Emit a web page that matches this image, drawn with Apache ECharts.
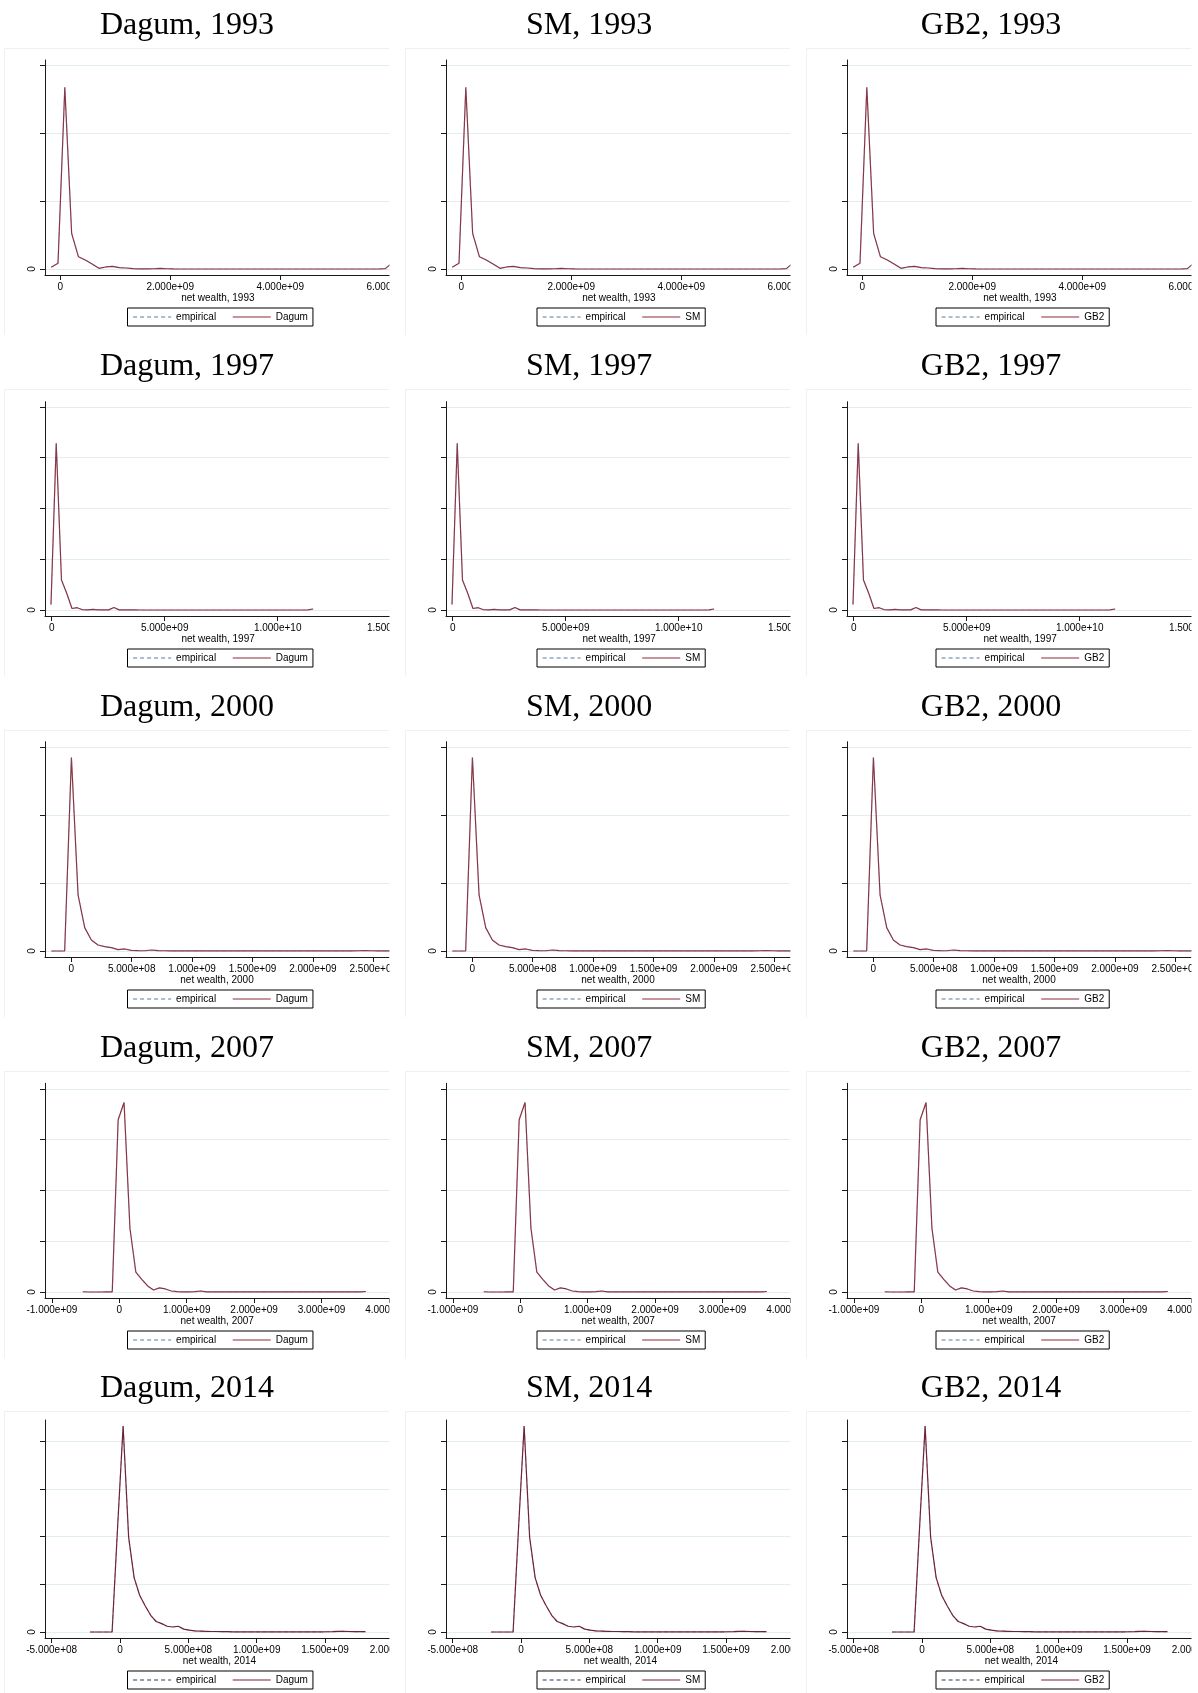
<!DOCTYPE html>
<html>
<head>
<meta charset="utf-8">
<title>Net wealth: empirical vs fitted densities</title>
<script src="https://cdn.jsdelivr.net/npm/echarts@6/dist/echarts.min.js"></script>
<style>
  html, body { margin: 0; padding: 0; background: #fff; overflow: hidden; }
  /* wider than the window so clipped edge labels are not pushed inwards */
  #chart { width: 1240px; height: 1693px; }
</style>
</head>
<body>
<div id="chart"></div>
<script>
var models = ['Dagum', 'SM', 'GB2'];
var years = ['1993', '1997', '2000', '2007', '2014'];

// net wealth at the evaluation points, in units of 1e8
var wealth1993 = [-1.64, -0.40, 0.84, 2.08, 3.32, 4.56, 5.80, 7.04, 8.28, 9.52,
  10.76, 12.00, 13.24, 14.48, 15.72, 16.96, 18.20, 19.44, 20.68, 21.92,
  23.16, 24.40, 25.64, 26.88, 28.12, 29.36, 30.60, 31.84, 33.08, 34.32,
  35.56, 36.80, 38.04, 39.28, 40.52, 41.76, 43.00, 44.24, 45.48, 46.72,
  47.96, 49.20, 50.44, 51.68, 52.92, 54.16, 55.40, 56.64, 57.88, 59.12, 60.36];
var wealth1997 = [-0.30, 2.02, 4.34, 6.66, 8.98, 11.30, 13.62, 15.94, 18.26, 20.58,
  22.90, 25.22, 27.54, 29.86, 32.18, 34.50, 36.82, 39.14, 41.46, 43.78,
  46.10, 48.42, 50.74, 53.06, 55.38, 57.70, 60.02, 62.34, 64.66, 66.98,
  69.30, 71.62, 73.94, 76.26, 78.58, 80.90, 83.22, 85.54, 87.86, 90.18,
  92.50, 94.82, 97.14, 99.46, 101.78, 104.10, 106.42, 108.74, 111.06, 113.38, 115.70];
var wealth2000 = [-1.65, -1.10, -0.55, 0.01, 0.56, 1.11, 1.66, 2.21, 2.77, 3.32,
  3.87, 4.42, 4.97, 5.53, 6.08, 6.63, 7.18, 7.73, 8.29, 8.84,
  9.39, 9.94, 10.49, 11.05, 11.60, 12.15, 12.70, 13.25, 13.81, 14.36,
  14.91, 15.46, 16.01, 16.57, 17.12, 17.67, 18.22, 18.77, 19.33, 19.88,
  20.43, 20.98, 21.53, 22.09, 22.64, 23.19, 23.74, 24.29, 24.85, 25.40,
  25.95, 26.50, 27.05];
var wealth2007 = [-5.420, -4.545, -3.670, -2.795, -1.920, -1.045, -0.170, 0.705, 1.580, 2.455,
  3.330, 4.205, 5.080, 5.955, 6.830, 7.705, 8.580, 9.455, 10.330, 11.205,
  12.080, 12.955, 13.830, 14.705, 15.580, 16.455, 17.330, 18.205, 19.080, 19.955,
  20.830, 21.705, 22.580, 23.455, 24.330, 25.205, 26.080, 26.955, 27.830, 28.705,
  29.580, 30.455, 31.330, 32.205, 33.080, 33.955, 34.830, 35.705, 36.580];
var wealth2014 = [-2.190, -1.787, -1.384, -0.981, -0.578, -0.175, 0.228, 0.631, 1.034, 1.437,
  1.840, 2.243, 2.646, 3.049, 3.452, 3.855, 4.258, 4.661, 5.064, 5.467,
  5.870, 6.273, 6.676, 7.079, 7.482, 7.885, 8.288, 8.691, 9.094, 9.497,
  9.900, 10.303, 10.706, 11.109, 11.512, 11.915, 12.318, 12.721, 13.124, 13.527,
  13.930, 14.333, 14.736, 15.139, 15.542, 15.945, 16.348, 16.751, 17.154, 17.557, 17.960];

// density at those points, in y-tick steps (empirical and fitted lie on top of each other)
var density1993 = [0.025, 0.084, 2.68, 0.526, 0.18, 0.133, 0.074, 0.01, 0.03, 0.04,
  0.02, 0.015, 0.005, 0.002, 0.001, 0.004, 0.01, 0.004, 0.001, 0,
  0, 0, 0, 0, 0, 0, 0, 0, 0, 0,
  0, 0, 0, 0, 0, 0, 0, 0, 0, 0,
  0, 0, 0, 0, 0, 0, 0, 0, 0, 0.005, 0.09];
var density1997 = [0.11, 3.28, 0.59, 0.33, 0.03, 0.045, 0.005, 0.002, 0.013, 0.004,
  0.002, 0.003, 0.05, 0.003, 0.001, 0.002, 0.001, 0, 0, 0,
  0, 0, 0, 0, 0, 0, 0, 0, 0, 0,
  0, 0, 0, 0, 0, 0, 0, 0, 0, 0,
  0, 0, 0, 0, 0, 0, 0, 0, 0, 0.003, 0.02];
var density2000 = [0, 0, 0, 2.85, 0.825, 0.344, 0.162, 0.088, 0.064, 0.049,
  0.02, 0.03, 0.01, 0.005, 0.004, 0.015, 0.006, 0.004, 0.003, 0.002,
  0.003, 0.002, 0.002, 0.003, 0.002, 0.002, 0.001, 0.002, 0.003, 0.002,
  0.002, 0.001, 0.002, 0.002, 0.001, 0.002, 0.003, 0.002, 0.001, 0.002,
  0.002, 0.001, 0.002, 0.003, 0.002, 0.002, 0.004, 0.006, 0.004, 0.002,
  0.002, 0.003, 0.004];
var density2007 = [0.005, 0, 0, 0, 0.002, 0.003, 3.39, 3.73, 1.25, 0.39,
  0.25, 0.12, 0.04, 0.08, 0.06, 0.02, 0.007, 0.003, 0.001, 0.008,
  0.02, 0.003, 0.004, 0.003, 0.002, 0.003, 0.002, 0.002, 0.003, 0.002,
  0.001, 0.002, 0.002, 0.001, 0.002, 0.002, 0.001, 0.002, 0.002, 0.001,
  0.002, 0.002, 0.001, 0.002, 0.002, 0.003, 0.002, 0.004, 0.01];
var density2014 = [0, 0, 0, 0, 0, 2.2, 4.32, 1.99, 1.14, 0.77,
  0.55, 0.35, 0.22, 0.175, 0.12, 0.105, 0.12, 0.06, 0.04, 0.025,
  0.02, 0.015, 0.01, 0.01, 0.008, 0.006, 0.004, 0.003, 0.002, 0.003,
  0.004, 0.003, 0.002, 0.002, 0.003, 0.002, 0.002, 0.003, 0.004, 0.003,
  0.002, 0.002, 0.003, 0.005, 0.008, 0.012, 0.015, 0.01, 0.008, 0.007, 0.008];

// tick values
var xTicks1993 = [0, 2e9, 4e9, 6e9];
var xTicks1997 = [0, 5e9, 1e10, 1.5e10];
var xTicks2000 = [0, 5e8, 1e9, 1.5e9, 2e9, 2.5e9];
var xTicks2007 = [-1e9, 0, 1e9, 2e9, 3e9, 4e9];
var xTicks2014 = [-5e8, 0, 5e8, 1e9, 1.5e9, 2e9];
var yTicks1993 = [0, 1, 2, 3];
var yTicks1997 = [0, 1, 2, 3, 4];
var yTicks2000 = [0, 1, 2, 3];
var yTicks2007 = [0, 1, 2, 3, 4];
var yTicks2014 = [0, 1, 2, 3, 4];

var panels = {
  '1993': { wealth: wealth1993, density: density1993, xTicks: xTicks1993, yTicks: yTicks1993 },
  '1997': { wealth: wealth1997, density: density1997, xTicks: xTicks1997, yTicks: yTicks1997 },
  '2000': { wealth: wealth2000, density: density2000, xTicks: xTicks2000, yTicks: yTicks2000 },
  '2007': { wealth: wealth2007, density: density2007, xTicks: xTicks2007, yTicks: yTicks2007 },
  '2014': { wealth: wealth2014, density: density2014, xTicks: xTicks2014, yTicks: yTicks2014 }
};

// pixel layout of one panel (relative to the panel corner)
var rowTop = [0, 341, 682, 1023, 1363];
var colLeft = [0, 401, 802];
var titleCx = [187, 188, 189];
var legendLeft = [127.5, 136, 134];
var scale = [
  { zero: 60.2, per1e9: 55.0, unit: 67.8, top: 60 },
  { zero: 51.67, per1e9: 22.6, unit: 50.8, top: 60.7 },
  { zero: 71.3, per1e9: 120.8, unit: 67.9, top: 59.7 },
  { zero: 119.3, per1e9: 67.4, unit: 50.8, top: 60.3 },
  { zero: 120, per1e9: 136.7, unit: 47.7, top: 57 }
];
var AXIS_X = 45, CLIP_X = 389.5, ZERO_Y = 269, BASE_Y = 275;

var lightColors = { emp: '#5a7aa3', fit: '#8e2b3a' };
var darkColors = { emp: '#1c3d66', fit: '#7b2130' };
var gridColor = '#e3ecef';
var axisColor = '#1a1a1a';

function sci(v) {
  if (Math.abs(v) < 1) return '0';
  return v.toExponential(3).replace(/e([+-])(\d)$/, function (m, s, d) {
    return 'e' + s + '0' + d;
  });
}

var option = {
  animation: false,
  backgroundColor: '#fff',
  textStyle: { fontFamily: 'Liberation Sans' },
  grid: [],
  xAxis: [],
  yAxis: [],
  legend: [],
  series: [],
  graphic: { elements: [] }
};
var gfx = option.graphic.elements;

years.forEach(function (year, r) {
  var p = panels[year];
  var s = scale[r];
  var colors = r === 4 ? darkColors : lightColors;
  var lastTick = p.xTicks[p.xTicks.length - 1];
  var rightPx = Math.max(389, s.zero + lastTick / 1e9 * s.per1e9 + 0.5);
  var xMin = (AXIS_X - s.zero) / s.per1e9 * 1e9;
  var xMax = (rightPx - s.zero) / s.per1e9 * 1e9;
  var yMin = -(BASE_Y - ZERO_Y) / s.unit;
  var yMax = (ZERO_Y - s.top) / s.unit;
  var points = p.wealth.map(function (w, i) { return [w * 1e8, p.density[i]]; });

  models.forEach(function (model, c) {
    var idx = r * 3 + c;
    var ox = colLeft[c], oy = rowTop[r];

    option.grid.push({
      left: ox + AXIS_X, top: oy + s.top,
      width: rightPx - AXIS_X, height: BASE_Y - s.top
    });

    option.xAxis.push({
      type: 'value', gridIndex: idx, min: xMin, max: xMax,
      name: 'net wealth, ' + year, nameLocation: 'middle', nameGap: 17,
      nameTextStyle: { fontSize: 10, color: '#000' },
      axisLine: { onZero: false, lineStyle: { color: axisColor, width: 1 } },
      axisTick: { customValues: p.xTicks, length: 5, lineStyle: { color: axisColor } },
      axisLabel: { customValues: p.xTicks, formatter: sci, fontSize: 10, color: '#000', margin: 7 },
      splitLine: { show: false }
    });

    option.yAxis.push({
      type: 'value', gridIndex: idx, min: yMin, max: yMax,
      axisLine: { show: true, onZero: false, lineStyle: { color: axisColor, width: 1 } },
      axisTick: { show: true, customValues: p.yTicks, length: 5, lineStyle: { color: axisColor } },
      axisLabel: {
        customValues: [0], rotate: 90, margin: 8, fontSize: 10, color: '#000',
        formatter: function (v) { return Math.abs(v) < 1e-9 ? '0' : ''; }
      },
      splitLine: { show: true, lineStyle: { color: gridColor, width: 1 } }
    });

    option.series.push({
      name: model, type: 'line', xAxisIndex: idx, yAxisIndex: idx,
      data: points, symbol: 'none', z: 2,
      lineStyle: { color: colors.fit, width: 1.2, type: 'solid' }
    });
    option.series.push({
      name: 'empirical', type: 'line', xAxisIndex: idx, yAxisIndex: idx,
      data: points, symbol: 'none', z: 3,
      lineStyle: { color: colors.emp, width: 1.2, type: [4, 3], opacity: 0.3 }
    });

    option.legend.push({
      left: ox + legendLeft[c], top: oy + 308,
      orient: 'horizontal', selectedMode: false,
      itemWidth: 38, itemHeight: 12, itemGap: 16,
      padding: [4, 5, 4, 5],
      borderColor: '#000', borderWidth: 1, backgroundColor: '#fff',
      textStyle: { fontSize: 10, color: '#000' },
      itemStyle: { opacity: 0 },
      data: [
        { name: 'empirical', itemStyle: { opacity: 0 },
          lineStyle: { color: colors.emp, width: 1.2, type: [4, 3], opacity: 1 } },
        { name: model, itemStyle: { opacity: 0 },
          lineStyle: { color: colors.fit, width: 1.2, type: 'solid', opacity: 1 } }
      ]
    });

    gfx.push({
      type: 'text', x: ox + titleCx[c], y: oy + 26, z: 120,
      style: {
        text: model + ', ' + year, fill: '#000',
        font: '32px "Liberation Serif"', align: 'center', verticalAlign: 'middle'
      }
    });

    // the panels are cut off on the right in the original figure
    gfx.push({
      type: 'rect', z: 100,
      shape: { x: ox + CLIP_X, y: oy + 40, width: c === 2 ? 60 : 38, height: 300 },
      style: { fill: '#fff' }
    });

    gfx.push({
      type: 'polyline', z: 110,
      shape: { points: [[ox + 4.5, oy + 335], [ox + 4.5, oy + 48.5], [ox + 389, oy + 48.5]] },
      style: { stroke: '#edf1f3', lineWidth: 1, fill: null }
    });
  });
});

var chart = echarts.init(document.getElementById('chart'));
chart.setOption(option);
</script>
</body>
</html>
